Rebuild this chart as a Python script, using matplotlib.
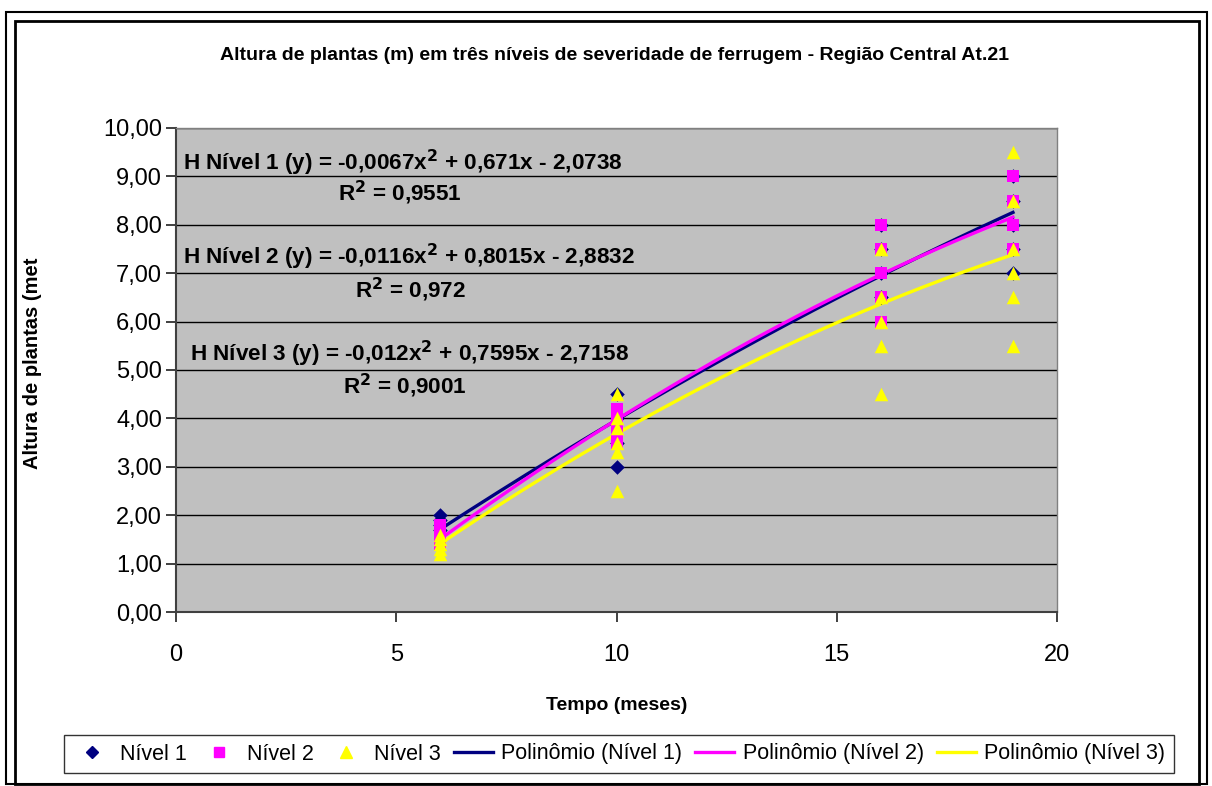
import numpy as np
import matplotlib
matplotlib.use("Agg")
import matplotlib.pyplot as plt
from matplotlib.ticker import FuncFormatter, MultipleLocator
from matplotlib.patches import Rectangle
from matplotlib.lines import Line2D

plt.rcParams['font.family'] = ['Liberation Sans', 'DejaVu Sans']

# ---- data ----
n1_x = [6, 6, 6, 6, 10, 10, 10, 10, 16, 16, 16, 16, 19, 19, 19, 19, 19]
n1_y = [2.0, 1.9, 1.8, 1.7, 4.5, 4.0, 3.5, 3.0, 8.0, 7.5, 7.0, 6.5, 9.0, 8.5, 8.0, 7.5, 7.0]
n2_x = [6, 6, 6, 6, 6, 10, 10, 10, 10, 10, 16, 16, 16, 16, 16, 19, 19, 19, 19]
n2_y = [1.8, 1.7, 1.6, 1.5, 1.4, 4.2, 4.0, 3.8, 3.6, 3.5, 8.0, 7.5, 7.0, 6.5, 6.0, 9.0, 8.5, 8.0, 7.5]
n3_x = [6, 6, 6, 6, 6, 10, 10, 10, 10, 10, 10, 16, 16, 16, 16, 16, 19, 19, 19, 19, 19, 19]
n3_y = [1.6, 1.5, 1.4, 1.3, 1.2, 4.5, 4.0, 3.8, 3.5, 3.3, 2.5, 7.5, 6.5, 6.0, 5.5, 4.5, 9.5, 8.5, 7.5, 7.0, 6.5, 5.5]

coef1 = [-0.0067, 0.671, -2.0738]
coef2 = [-0.0116, 0.8015, -2.8832]
coef3 = [-0.012, 0.7595, -2.7158]

eq1 = r"H Nível 1 (y) = -0,0067x$^{\mathbf{2}}$ + 0,671x - 2,0738"
r1 = r"R$^{\mathbf{2}}$ = 0,9551"
eq2 = r"H Nível 2 (y) = -0,0116x$^{\mathbf{2}}$ + 0,8015x - 2,8832"
r2 = r"R$^{\mathbf{2}}$ = 0,972"
eq3 = r"H Nível 3 (y) = -0,012x$^{\mathbf{2}}$ + 0,7595x - 2,7158"
r3 = r"R$^{\mathbf{2}}$ = 0,9001"

title = "Altura de plantas (m) em três níveis de severidade de ferrugem - Região Central At.21"
xlabel = "Tempo (meses)"
ylabel = "Altura de plantas (met"

# ---- figure ----
W, H = 1212, 786
fig = plt.figure(figsize=(W / 100, H / 100), dpi=100)
fig.patch.set_facecolor('white')

def fx(px):
    return px / W

def fy(py):
    return 1 - py / H

# outer borders
fig.add_artist(Rectangle((fx(6), fy(784)), fx(1207) - fx(6), fy(12) - fy(784),
                         transform=fig.transFigure, fill=False, lw=1.5, ec='black'))
fig.add_artist(Rectangle((fx(15), fy(784)), fx(1199) - fx(15), fy(21) - fy(784),
                         transform=fig.transFigure, fill=False, lw=2.0, ec='black'))

L, R, T, B = 176, 1057, 128, 612
ax = fig.add_axes([fx(L), fy(B), fx(R) - fx(L), fy(T) - fy(B)])
ax.set_facecolor('#C0C0C0')
ax.set_xlim(0, 20)
ax.set_ylim(0, 10)
ax.xaxis.set_major_locator(MultipleLocator(5))
ax.yaxis.set_major_locator(MultipleLocator(1))
ax.yaxis.set_major_formatter(FuncFormatter(lambda v, p: f"{v:.2f}".replace('.', ',')))
ax.xaxis.set_major_formatter(FuncFormatter(lambda v, p: f"{v:.0f}"))
ax.grid(axis='y', color='black', lw=1.0)
ax.set_axisbelow(True)
for s in ['top', 'right']:
    ax.spines[s].set_color('#808080')
    ax.spines[s].set_linewidth(1.0)
for s in ['left', 'bottom']:
    ax.spines[s].set_color('#404040')
    ax.spines[s].set_linewidth(1.5)
ax.tick_params(axis='both', direction='out', length=7, width=1.2, color='#202020',
               labelsize=17)
ax.tick_params(axis='x', pad=16)
ax.tick_params(axis='y', pad=3)

# trendlines
for xs, c, col in [(n1_x, coef1, '#000080'), (n2_x, coef2, '#FF00FF'), (n3_x, coef3, '#FFFF00')]:
    xx = np.linspace(min(xs), max(xs), 200)
    ax.plot(xx, np.polyval(c, xx), color=col, lw=2.4, zorder=3)

# points
ax.scatter(n1_x, n1_y, marker='D', s=55, color='#000080', zorder=4, linewidths=0)
ax.scatter(n2_x, n2_y, marker='s', s=70, color='#FF00FF', zorder=5, linewidths=0)
ax.scatter(n3_x, n3_y, marker='^', s=95, color='#FFFF00', zorder=6, linewidths=0)

# equations
eqkw = dict(fontsize=16.2, fontweight='bold', color='black', zorder=7)
fig.text(fx(183), fy(163), eq1, ha='left', va='center', **eqkw)
fig.text(fx(400), fy(193), r1, ha='center', va='center', **eqkw)
fig.text(fx(183), fy(257), eq2, ha='left', va='center', **eqkw)
fig.text(fx(410), fy(290), r2, ha='center', va='center', **eqkw)
fig.text(fx(190), fy(354), eq3, ha='left', va='center', **eqkw)
fig.text(fx(405), fy(386), r3, ha='center', va='center', **eqkw)

# title / labels
fig.text(fx(615), fy(56), title, ha='center', va='center', fontsize=14, fontweight='bold')
fig.text(fx(617), fy(705), xlabel, ha='center', va='center', fontsize=14, fontweight='bold')
fig.text(fx(33), fy(363), ylabel, ha='center', va='center', rotation=90, fontsize=14.5,
         fontweight='bold')

# legend
handles = [
    Line2D([], [], marker='D', color='#000080', ls='none', markersize=6),
    Line2D([], [], marker='s', color='#FF00FF', ls='none', markersize=7),
    Line2D([], [], marker='^', color='#FFFF00', ls='none', markersize=8),
    Line2D([], [], color='#000080', lw=2.4),
    Line2D([], [], color='#FF00FF', lw=2.4),
    Line2D([], [], color='#FFFF00', lw=2.4),
]
labels = ["Nível 1", "Nível 2", "Nível 3", "Polinômio (Nível 1)", "Polinômio (Nível 2)",
          "Polinômio (Nível 3)"]
leg = fig.legend(handles, labels, loc='center', bbox_to_anchor=(fx(619), fy(754)), ncol=6,
                 fontsize=15.5, frameon=True, fancybox=False, edgecolor='black',
                 handlelength=1.8, handletextpad=0.4, columnspacing=0.6, borderpad=0.4)
leg.get_frame().set_linewidth(1.0)

fig.savefig('out.png', dpi=100)
